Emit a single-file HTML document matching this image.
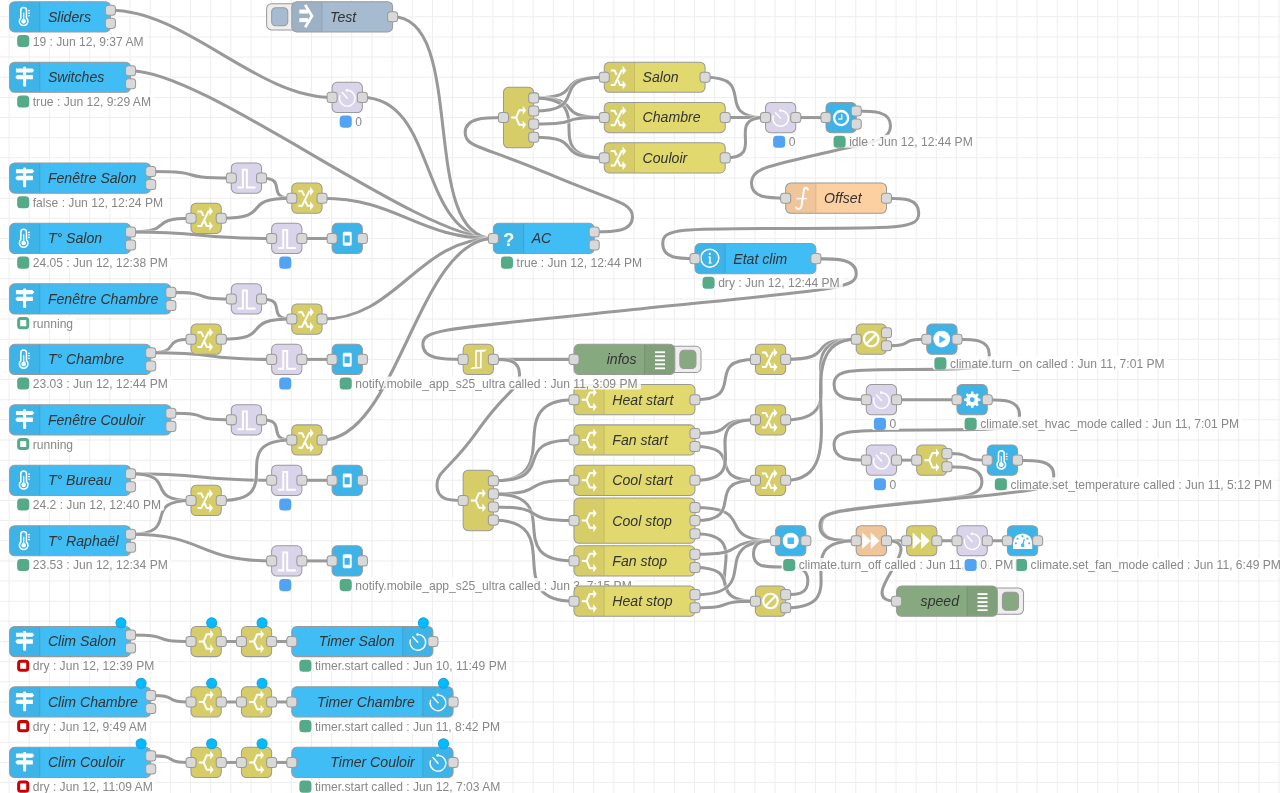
<!DOCTYPE html>
<html><head><meta charset="utf-8"><title>Node-RED</title><style>
html,body{margin:0;padding:0;background:#fff;overflow:hidden;width:1280px;height:793px}
svg{display:block;position:absolute;left:0;top:0;will-change:transform}
.lbl{font-family:"Liberation Sans",sans-serif;font-size:14px;font-style:italic;fill:#333}
.st{font-family:"Liberation Sans",sans-serif;font-size:12px;fill:#888}
.port{fill:#d9d9d9;stroke:#999;stroke-width:1}
.wire{fill:none;stroke:#999;stroke-width:3}
.wo{fill:none;stroke:#fff;stroke-width:5;stroke-opacity:0.4}
</style></head><body>
<svg width="1280" height="793" viewBox="0 0 1280 793">
<rect width="1280" height="793" fill="#fff"/>

<g transform="matrix(1.0079 0 0 1.0076 9.6 16.8)">
<path d="M-20.5 -20V790 M-0.5 -20V790 M19.5 -20V790 M39.5 -20V790 M59.5 -20V790 M79.5 -20V790 M99.5 -20V790 M119.5 -20V790 M139.5 -20V790 M159.5 -20V790 M179.5 -20V790 M199.5 -20V790 M219.5 -20V790 M239.5 -20V790 M259.5 -20V790 M279.5 -20V790 M299.5 -20V790 M319.5 -20V790 M339.5 -20V790 M359.5 -20V790 M379.5 -20V790 M399.5 -20V790 M419.5 -20V790 M439.5 -20V790 M459.5 -20V790 M479.5 -20V790 M499.5 -20V790 M519.5 -20V790 M539.5 -20V790 M559.5 -20V790 M579.5 -20V790 M599.5 -20V790 M619.5 -20V790 M639.5 -20V790 M659.5 -20V790 M679.5 -20V790 M699.5 -20V790 M719.5 -20V790 M739.5 -20V790 M759.5 -20V790 M779.5 -20V790 M799.5 -20V790 M819.5 -20V790 M839.5 -20V790 M859.5 -20V790 M879.5 -20V790 M899.5 -20V790 M919.5 -20V790 M939.5 -20V790 M959.5 -20V790 M979.5 -20V790 M999.5 -20V790 M1019.5 -20V790 M1039.5 -20V790 M1059.5 -20V790 M1079.5 -20V790 M1099.5 -20V790 M1119.5 -20V790 M1139.5 -20V790 M1159.5 -20V790 M1179.5 -20V790 M1199.5 -20V790 M1219.5 -20V790 M1239.5 -20V790 M1259.5 -20V790 M1279.5 -20V790 M-20 -20H1280 M-20 0H1280 M-20 20H1280 M-20 40H1280 M-20 60H1280 M-20 80H1280 M-20 100H1280 M-20 120H1280 M-20 140H1280 M-20 160H1280 M-20 180H1280 M-20 200H1280 M-20 220H1280 M-20 240H1280 M-20 260H1280 M-20 280H1280 M-20 300H1280 M-20 320H1280 M-20 340H1280 M-20 360H1280 M-20 380H1280 M-20 400H1280 M-20 420H1280 M-20 440H1280 M-20 460H1280 M-20 480H1280 M-20 500H1280 M-20 520H1280 M-20 540H1280 M-20 560H1280 M-20 580H1280 M-20 600H1280 M-20 620H1280 M-20 640H1280 M-20 660H1280 M-20 680H1280 M-20 700H1280 M-20 720H1280 M-20 740H1280 M-20 760H1280 M-20 780H1280 M-20 800H1280" stroke="#eee" stroke-width="1" fill="none"/>
<path class="wo" d="M 100 -6.5 C 175 -6.5 245 80 320 80"/>
<path class="wire" d="M 100 -6.5 C 175 -6.5 245 80 320 80"/>
<path class="wo" d="M 350 80 C 425 80 405 220 480 220"/>
<path class="wire" d="M 350 80 C 425 80 405 220 480 220"/>
<path class="wo" d="M 120 53.5 C 195 53.5 405 220 480 220"/>
<path class="wire" d="M 120 53.5 C 195 53.5 405 220 480 220"/>
<path class="wo" d="M 380 0 C 455 0 405 220 480 220"/>
<path class="wire" d="M 380 0 C 455 0 405 220 480 220"/>
<path class="wo" d="M 140 153.5 C 200.198 153.5 159.802 160 220 160"/>
<path class="wire" d="M 140 153.5 C 200.198 153.5 159.802 160 220 160"/>
<path class="wo" d="M 250 160 C 277.042 160 252.958 180 280 180"/>
<path class="wire" d="M 250 160 C 277.042 160 252.958 180 280 180"/>
<path class="wo" d="M 120 213.5 C 166.125 213.5 133.875 200 180 200"/>
<path class="wire" d="M 120 213.5 C 166.125 213.5 133.875 200 180 200"/>
<path class="wo" d="M 120 213.5 C 195 213.5 185 220 260 220"/>
<path class="wire" d="M 120 213.5 C 195 213.5 185 220 260 220"/>
<path class="wo" d="M 210 200 C 264.601 200 225.399 180 280 180"/>
<path class="wire" d="M 210 200 C 264.601 200 225.399 180 280 180"/>
<path class="wo" d="M 310 180 C 385 180 405 220 480 220"/>
<path class="wire" d="M 310 180 C 385 180 405 220 480 220"/>
<path class="wo" d="M 290 220 C 312.5 220 297.5 220 320 220"/>
<path class="wire" d="M 290 220 C 312.5 220 297.5 220 320 220"/>
<path class="wo" d="M 160 273.5 C 205.263 273.5 174.737 280 220 280"/>
<path class="wire" d="M 160 273.5 C 205.263 273.5 174.737 280 220 280"/>
<path class="wo" d="M 250 280 C 277.042 280 252.958 300 280 300"/>
<path class="wire" d="M 250 280 C 277.042 280 252.958 300 280 300"/>
<path class="wo" d="M 140 333.5 C 171.663 333.5 148.337 320 180 320"/>
<path class="wire" d="M 140 333.5 C 171.663 333.5 148.337 320 180 320"/>
<path class="wo" d="M 140 333.5 C 215 333.5 185 340 260 340"/>
<path class="wire" d="M 140 333.5 C 215 333.5 185 340 260 340"/>
<path class="wo" d="M 210 320 C 264.601 320 225.399 300 280 300"/>
<path class="wire" d="M 210 320 C 264.601 320 225.399 300 280 300"/>
<path class="wo" d="M 310 300 C 385 300 405 220 480 220"/>
<path class="wire" d="M 310 300 C 385 300 405 220 480 220"/>
<path class="wo" d="M 290 340 C 312.5 340 297.5 340 320 340"/>
<path class="wire" d="M 290 340 C 312.5 340 297.5 340 320 340"/>
<path class="wo" d="M 160 393.5 C 205.263 393.5 174.737 400 220 400"/>
<path class="wire" d="M 160 393.5 C 205.263 393.5 174.737 400 220 400"/>
<path class="wo" d="M 250 400 C 277.042 400 252.958 420 280 420"/>
<path class="wire" d="M 250 400 C 277.042 400 252.958 420 280 420"/>
<path class="wo" d="M 120 453.5 C 195 453.5 185 460 260 460"/>
<path class="wire" d="M 120 453.5 C 195 453.5 185 460 260 460"/>
<path class="wo" d="M 120 453.5 C 169.194 453.5 130.806 480 180 480"/>
<path class="wire" d="M 120 453.5 C 169.194 453.5 130.806 480 180 480"/>
<path class="wo" d="M 120 513.5 C 171.539 513.5 128.461 480 180 480"/>
<path class="wire" d="M 120 513.5 C 171.539 513.5 128.461 480 180 480"/>
<path class="wo" d="M 120 513.5 C 195 513.5 185 540 260 540"/>
<path class="wire" d="M 120 513.5 C 195 513.5 185 540 260 540"/>
<path class="wo" d="M 210 480 C 279.147 480 210.853 420 280 420"/>
<path class="wire" d="M 210 480 C 279.147 480 210.853 420 280 420"/>
<path class="wo" d="M 310 420 C 385 420 405 220 480 220"/>
<path class="wire" d="M 310 420 C 385 420 405 220 480 220"/>
<path class="wo" d="M 290 460 C 312.5 460 297.5 460 320 460"/>
<path class="wire" d="M 290 460 C 312.5 460 297.5 460 320 460"/>
<path class="wo" d="M 290 540 C 312.5 540 297.5 540 320 540"/>
<path class="wire" d="M 290 540 C 312.5 540 297.5 540 320 540"/>
<path class="wo" d="M 580 213.5 C 599 213.5 618 213.5 618 198.5 S 599 183.5 535 156 S 452 130 452 115 S 471 100 490 100"/>
<path class="wire" d="M 580 213.5 C 599 213.5 618 213.5 618 198.5 S 599 183.5 535 156 S 452 130 452 115 S 471 100 490 100"/>
<path class="wo" d="M 520 80.5 C 574.705 80.5 535.295 60 590 60"/>
<path class="wire" d="M 520 80.5 C 574.705 80.5 535.295 60 590 60"/>
<path class="wo" d="M 520 80.5 C 574.499 80.5 535.501 100 590 100"/>
<path class="wire" d="M 520 80.5 C 574.499 80.5 535.501 100 590 100"/>
<path class="wo" d="M 520 80.5 C 588.903 80.5 521.097 140 590 140"/>
<path class="wire" d="M 520 80.5 C 588.903 80.5 521.097 140 590 140"/>
<path class="wo" d="M 520 93.5 C 578.202 93.5 531.798 60 590 60"/>
<path class="wire" d="M 520 93.5 C 578.202 93.5 531.798 60 590 60"/>
<path class="wo" d="M 520 106.5 C 572.726 106.5 537.274 100 590 100"/>
<path class="wire" d="M 520 106.5 C 572.726 106.5 537.274 100 590 100"/>
<path class="wo" d="M 520 119.5 C 574.705 119.5 535.295 140 590 140"/>
<path class="wire" d="M 520 119.5 C 574.705 119.5 535.295 140 590 140"/>
<path class="wo" d="M 690 60 C 744.083 60 695.917 100 750 100"/>
<path class="wire" d="M 690 60 C 744.083 60 695.917 100 750 100"/>
<path class="wo" d="M 710 100 C 740 100 720 100 750 100"/>
<path class="wire" d="M 710 100 C 740 100 720 100 750 100"/>
<path class="wo" d="M 710 140 C 752.426 140 707.574 100 750 100"/>
<path class="wire" d="M 710 140 C 752.426 140 707.574 100 750 100"/>
<path class="wo" d="M 780 100 C 802.5 100 787.5 100 810 100"/>
<path class="wire" d="M 780 100 C 802.5 100 787.5 100 810 100"/>
<path class="wo" d="M 840 93.5 C 857 93.5 874 93.5 874 108.5 S 857 123.5 805 136 S 736 150 736 165 S 753 180 770 180"/>
<path class="wire" d="M 840 93.5 C 857 93.5 874 93.5 874 108.5 S 857 123.5 805 136 S 736 150 736 165 S 753 180 770 180"/>
<path class="wo" d="M 870 180 C 886 180 902 180 902 195 S 886 210 775 210 S 648 210 648 225 S 664 240 680 240"/>
<path class="wire" d="M 870 180 C 886 180 902 180 902 195 S 886 210 775 210 S 648 210 648 225 S 664 240 680 240"/>
<path class="wo" d="M 800 240 C 820 240 840 240 840 255 S 820 270 625 290 S 410 310 410 325 S 430 340 450 340"/>
<path class="wire" d="M 800 240 C 820 240 840 240 840 255 S 820 270 625 290 S 410 310 410 325 S 430 340 450 340"/>
<path class="wo" d="M 480 340 C 540 340 500 340 560 340"/>
<path class="wire" d="M 480 340 C 540 340 500 340 560 340"/>
<path class="wo" d="M 480 340 C 493 340 506 340 506 355 S 493 370 465 410 S 424 450 424 465 S 437 480 450 480"/>
<path class="wire" d="M 480 340 C 493 340 506 340 506 355 S 493 370 465 410 S 424 450 424 465 S 437 480 450 480"/>
<path class="wo" d="M 480 460.5 C 555 460.5 485 380 560 380"/>
<path class="wire" d="M 480 460.5 C 555 460.5 485 380 560 380"/>
<path class="wo" d="M 480 460.5 C 547.251 460.5 492.749 420 560 420"/>
<path class="wire" d="M 480 460.5 C 547.251 460.5 492.749 420 560 420"/>
<path class="wo" d="M 480 473.5 C 540.848 473.5 499.152 460 560 460"/>
<path class="wire" d="M 480 473.5 C 540.848 473.5 499.152 460 560 460"/>
<path class="wo" d="M 480 473.5 C 555 473.5 485 540 560 540"/>
<path class="wire" d="M 480 473.5 C 555 473.5 485 540 560 540"/>
<path class="wo" d="M 480 486.5 C 540.848 486.5 499.152 500 560 500"/>
<path class="wire" d="M 480 486.5 C 540.848 486.5 499.152 500 560 500"/>
<path class="wo" d="M 480 499.5 C 555 499.5 485 580 560 580"/>
<path class="wire" d="M 480 499.5 C 555 499.5 485 580 560 580"/>
<path class="wo" d="M 680 380 C 734.083 380 685.917 340 740 340"/>
<path class="wire" d="M 680 380 C 734.083 380 685.917 340 740 340"/>
<path class="wo" d="M 680 413.5 C 726.125 413.5 693.875 400 740 400"/>
<path class="wire" d="M 680 413.5 C 726.125 413.5 693.875 400 740 400"/>
<path class="wo" d="M 680 426.5 C 731.539 426.5 688.461 460 740 460"/>
<path class="wire" d="M 680 426.5 C 731.539 426.5 688.461 460 740 460"/>
<path class="wo" d="M 680 460 C 743.64 460 676.36 400 740 400"/>
<path class="wire" d="M 680 460 C 743.64 460 676.36 400 740 400"/>
<path class="wo" d="M 680 487 C 744.904 487 695.096 520 760 520"/>
<path class="wire" d="M 680 487 C 744.904 487 695.096 520 760 520"/>
<path class="wo" d="M 680 500 C 734.083 500 685.917 460 740 460"/>
<path class="wire" d="M 680 500 C 734.083 500 685.917 460 740 460"/>
<path class="wo" d="M 680 513 C 747.454 513 672.546 580 740 580"/>
<path class="wire" d="M 680 513 C 747.454 513 672.546 580 740 580"/>
<path class="wo" d="M 680 533.5 C 740.848 533.5 699.152 520 760 520"/>
<path class="wire" d="M 680 533.5 C 740.848 533.5 699.152 520 760 520"/>
<path class="wo" d="M 680 546.5 C 731.539 546.5 688.461 580 740 580"/>
<path class="wire" d="M 680 546.5 C 731.539 546.5 688.461 580 740 580"/>
<path class="wo" d="M 680 573.5 C 752.18 573.5 687.82 520 760 520"/>
<path class="wire" d="M 680 573.5 C 752.18 573.5 687.82 520 760 520"/>
<path class="wo" d="M 680 586.5 C 725.263 586.5 694.737 580 740 580"/>
<path class="wire" d="M 680 586.5 C 725.263 586.5 694.737 580 740 580"/>
<path class="wo" d="M 770 340 C 824.601 340 785.399 320 840 320"/>
<path class="wire" d="M 770 340 C 824.601 340 785.399 320 840 320"/>
<path class="wo" d="M 770 400 C 845 400 765 320 840 320"/>
<path class="wire" d="M 770 400 C 845 400 765 320 840 320"/>
<path class="wo" d="M 770 460 C 845 460 765 320 840 320"/>
<path class="wire" d="M 770 460 C 845 460 765 320 840 320"/>
<path class="wo" d="M 870 326.5 C 900.394 326.5 879.606 320 910 320"/>
<path class="wire" d="M 870 326.5 C 900.394 326.5 879.606 320 910 320"/>
<path class="wo" d="M 940 320 C 956 320 972 320 972 335 S 956 350 895 350 S 818 350 818 365 S 834 380 850 380"/>
<path class="wire" d="M 940 320 C 956 320 972 320 972 335 S 956 350 895 350 S 818 350 818 365 S 834 380 850 380"/>
<path class="wo" d="M 880 380 C 925 380 895 380 940 380"/>
<path class="wire" d="M 880 380 C 925 380 895 380 940 380"/>
<path class="wo" d="M 970 380 C 986 380 1002 380 1002 395 S 986 410 910 410 S 818 410 818 425 S 834 440 850 440"/>
<path class="wire" d="M 970 380 C 986 380 1002 380 1002 395 S 986 410 910 410 S 818 410 818 425 S 834 440 850 440"/>
<path class="wo" d="M 880 440 C 895 440 885 440 900 440"/>
<path class="wire" d="M 880 440 C 895 440 885 440 900 440"/>
<path class="wo" d="M 930 433.5 C 960.394 433.5 939.606 440 970 440"/>
<path class="wire" d="M 930 433.5 C 960.394 433.5 939.606 440 970 440"/>
<path class="wo" d="M 930 446.5 C 947.35 446.5 964.7 446.5 964.7 461.5 S 947.35 476.5 885 483 S 805.3 490 805.3 505 S 822.65 520 840 520"/>
<path class="wire" d="M 930 446.5 C 947.35 446.5 964.7 446.5 964.7 461.5 S 947.35 476.5 885 483 S 805.3 490 805.3 505 S 822.65 520 840 520"/>
<path class="wo" d="M 1000 440 C 1018 440 1036 440 1036 455 S 1018 470 920 480 S 804 490 804 505 S 822 520 840 520"/>
<path class="wire" d="M 1000 440 C 1018 440 1036 440 1036 455 S 1018 470 920 480 S 804 490 804 505 S 822 520 840 520"/>
<path class="wo" d="M 770 573.5 C 781 573.5 792 573.5 792 559.75 S 781 546 765 546 S 738 546 738 533 S 749 520 760 520"/>
<path class="wire" d="M 770 573.5 C 781 573.5 792 573.5 792 559.75 S 781 546 765 546 S 738 546 738 533 S 749 520 760 520"/>
<path class="wo" d="M 770 586.5 C 842.414 586.5 767.586 520 840 520"/>
<path class="wire" d="M 770 586.5 C 842.414 586.5 767.586 520 840 520"/>
<path class="wo" d="M 870 520 C 885 520 875 520 890 520"/>
<path class="wire" d="M 870 520 C 885 520 875 520 890 520"/>
<path class="wo" d="M 870 520 C 915.621 520 834.379 580 880 580"/>
<path class="wire" d="M 870 520 C 915.621 520 834.379 580 880 580"/>
<path class="wo" d="M 920 520 C 935 520 925 520 940 520"/>
<path class="wire" d="M 920 520 C 935 520 925 520 940 520"/>
<path class="wo" d="M 970 520 C 985 520 975 520 990 520"/>
<path class="wire" d="M 970 520 C 985 520 975 520 990 520"/>
<path class="wo" d="M 120 613.5 C 165.263 613.5 134.737 620 180 620"/>
<path class="wire" d="M 120 613.5 C 165.263 613.5 134.737 620 180 620"/>
<path class="wo" d="M 210 620 C 225 620 215 620 230 620"/>
<path class="wire" d="M 210 620 C 225 620 215 620 230 620"/>
<path class="wo" d="M 260 620 C 275 620 265 620 280 620"/>
<path class="wire" d="M 260 620 C 275 620 265 620 280 620"/>
<path class="wo" d="M 140 673.5 C 170.394 673.5 149.606 680 180 680"/>
<path class="wire" d="M 140 673.5 C 170.394 673.5 149.606 680 180 680"/>
<path class="wo" d="M 210 680 C 225 680 215 680 230 680"/>
<path class="wire" d="M 210 680 C 225 680 215 680 230 680"/>
<path class="wo" d="M 260 680 C 275 680 265 680 280 680"/>
<path class="wire" d="M 260 680 C 275 680 265 680 280 680"/>
<path class="wo" d="M 140 733.5 C 170.394 733.5 149.606 740 180 740"/>
<path class="wire" d="M 140 733.5 C 170.394 733.5 149.606 740 180 740"/>
<path class="wo" d="M 210 740 C 225 740 215 740 230 740"/>
<path class="wire" d="M 210 740 C 225 740 215 740 230 740"/>
<path class="wo" d="M 260 740 C 275 740 265 740 280 740"/>
<path class="wire" d="M 260 740 C 275 740 265 740 280 740"/>
<g transform="translate(0,-15)"><rect width="100" height="30" rx="5" fill="#41bdf5" stroke="#999"/><path d="M30 0.5H5Q0.5 0.5 0.5 5V25 Q0.5 29.5 5 29.5H30Z" fill="#000" fill-opacity="0.05"/><path d="M30 0.5V29.5" stroke="#000" stroke-opacity="0.1"/><g transform="translate(0,0)"><path d="M11.15 16.3V8.55A2.8 2.8 0 0 1 16.75 8.55V16.3A4.25 4.25 0 1 1 11.15 16.3Z" fill="none" stroke="#fff" stroke-width="1.5"/><rect x="13.3" y="11" width="1.3" height="8" fill="#fff"/><circle cx="13.95" cy="19.5" r="2.3" fill="#fff"/><path d="M18.4 8.9h1.8M18.4 11.4h1.8M18.4 13.9h1.8" stroke="#fff" stroke-width="1.1"/></g><text class="lbl" x="38" y="19.9">Sliders</text><rect x="95" y="3.5" width="10" height="10" rx="3" class="port"/><rect x="95" y="16.5" width="10" height="10" rx="3" class="port"/><g transform="translate(3,33)"><rect x="3" y="-1" width="130.016" height="13" rx="1" fill="#fff" fill-opacity="0.85"/><rect x="6" y="1.5" width="9" height="9" rx="2" fill="#5a8" stroke="#5a8" stroke-width="3"/><text class="st" x="20" y="10.5">19 : Jun 12, 9:37 AM</text></g></g>
<g transform="translate(0,45)"><rect width="120" height="30" rx="5" fill="#41bdf5" stroke="#999"/><path d="M30 0.5H5Q0.5 0.5 0.5 5V25 Q0.5 29.5 5 29.5H30Z" fill="#000" fill-opacity="0.05"/><path d="M30 0.5V29.5" stroke="#000" stroke-opacity="0.1"/><g transform="translate(0,0)"><g fill="#fff"><rect x="13.4" y="4.6" width="3" height="19.5" rx="1"/><path d="M6.3 6.6Q6.3 6.2 6.7 6.2H22.6L24.4 8.25L22.6 10.3H6.7Q6.3 10.3 6.3 9.9Z"/><path d="M7.4 12.75H22.7Q23.1 12.75 23.1 13.15V16.7Q23.1 17.1 22.7 17.1H7.4L5.7 14.92Z"/></g></g><text class="lbl" x="38" y="19.9">Switches</text><rect x="115" y="3.5" width="10" height="10" rx="3" class="port"/><rect x="115" y="16.5" width="10" height="10" rx="3" class="port"/><g transform="translate(3,33)"><rect x="3" y="-1" width="137.344" height="13" rx="1" fill="#fff" fill-opacity="0.85"/><rect x="6" y="1.5" width="9" height="9" rx="2" fill="#5a8" stroke="#5a8" stroke-width="3"/><text class="st" x="20" y="10.5">true : Jun 12, 9:29 AM</text></g></g>
<g transform="translate(0,145)"><rect width="140" height="30" rx="5" fill="#41bdf5" stroke="#999"/><path d="M30 0.5H5Q0.5 0.5 0.5 5V25 Q0.5 29.5 5 29.5H30Z" fill="#000" fill-opacity="0.05"/><path d="M30 0.5V29.5" stroke="#000" stroke-opacity="0.1"/><g transform="translate(0,0)"><g fill="#fff"><rect x="13.4" y="4.6" width="3" height="19.5" rx="1"/><path d="M6.3 6.6Q6.3 6.2 6.7 6.2H22.6L24.4 8.25L22.6 10.3H6.7Q6.3 10.3 6.3 9.9Z"/><path d="M7.4 12.75H22.7Q23.1 12.75 23.1 13.15V16.7Q23.1 17.1 22.7 17.1H7.4L5.7 14.92Z"/></g></g><text class="lbl" x="38" y="19.9">Fenêtre Salon</text><rect x="135" y="3.5" width="10" height="10" rx="3" class="port"/><rect x="135" y="16.5" width="10" height="10" rx="3" class="port"/><g transform="translate(3,33)"><rect x="3" y="-1" width="149.344" height="13" rx="1" fill="#fff" fill-opacity="0.85"/><rect x="6" y="1.5" width="9" height="9" rx="2" fill="#5a8" stroke="#5a8" stroke-width="3"/><text class="st" x="20" y="10.5">false : Jun 12, 12:24 PM</text></g></g>
<g transform="translate(0,205)"><rect width="120" height="30" rx="5" fill="#41bdf5" stroke="#999"/><path d="M30 0.5H5Q0.5 0.5 0.5 5V25 Q0.5 29.5 5 29.5H30Z" fill="#000" fill-opacity="0.05"/><path d="M30 0.5V29.5" stroke="#000" stroke-opacity="0.1"/><g transform="translate(0,0)"><path d="M11.15 16.3V8.55A2.8 2.8 0 0 1 16.75 8.55V16.3A4.25 4.25 0 1 1 11.15 16.3Z" fill="none" stroke="#fff" stroke-width="1.5"/><rect x="13.3" y="11" width="1.3" height="8" fill="#fff"/><circle cx="13.95" cy="19.5" r="2.3" fill="#fff"/><path d="M18.4 8.9h1.8M18.4 11.4h1.8M18.4 13.9h1.8" stroke="#fff" stroke-width="1.1"/></g><text class="lbl" x="38" y="19.9">T° Salon</text><rect x="115" y="3.5" width="10" height="10" rx="3" class="port"/><rect x="115" y="16.5" width="10" height="10" rx="3" class="port"/><g transform="translate(3,33)"><rect x="3" y="-1" width="154.016" height="13" rx="1" fill="#fff" fill-opacity="0.85"/><rect x="6" y="1.5" width="9" height="9" rx="2" fill="#5a8" stroke="#5a8" stroke-width="3"/><text class="st" x="20" y="10.5">24.05 : Jun 12, 12:38 PM</text></g></g>
<g transform="translate(0,265)"><rect width="160" height="30" rx="5" fill="#41bdf5" stroke="#999"/><path d="M30 0.5H5Q0.5 0.5 0.5 5V25 Q0.5 29.5 5 29.5H30Z" fill="#000" fill-opacity="0.05"/><path d="M30 0.5V29.5" stroke="#000" stroke-opacity="0.1"/><g transform="translate(0,0)"><g fill="#fff"><rect x="13.4" y="4.6" width="3" height="19.5" rx="1"/><path d="M6.3 6.6Q6.3 6.2 6.7 6.2H22.6L24.4 8.25L22.6 10.3H6.7Q6.3 10.3 6.3 9.9Z"/><path d="M7.4 12.75H22.7Q23.1 12.75 23.1 13.15V16.7Q23.1 17.1 22.7 17.1H7.4L5.7 14.92Z"/></g></g><text class="lbl" x="38" y="19.9">Fenêtre Chambre</text><rect x="155" y="3.5" width="10" height="10" rx="3" class="port"/><rect x="155" y="16.5" width="10" height="10" rx="3" class="port"/><g transform="translate(3,33)"><rect x="3" y="-1" width="60.0312" height="13" rx="1" fill="#fff" fill-opacity="0.85"/><rect x="6" y="1.5" width="9" height="9" rx="2" fill="#fff" stroke="#5a8" stroke-width="3"/><text class="st" x="20" y="10.5">running</text></g></g>
<g transform="translate(0,325)"><rect width="140" height="30" rx="5" fill="#41bdf5" stroke="#999"/><path d="M30 0.5H5Q0.5 0.5 0.5 5V25 Q0.5 29.5 5 29.5H30Z" fill="#000" fill-opacity="0.05"/><path d="M30 0.5V29.5" stroke="#000" stroke-opacity="0.1"/><g transform="translate(0,0)"><path d="M11.15 16.3V8.55A2.8 2.8 0 0 1 16.75 8.55V16.3A4.25 4.25 0 1 1 11.15 16.3Z" fill="none" stroke="#fff" stroke-width="1.5"/><rect x="13.3" y="11" width="1.3" height="8" fill="#fff"/><circle cx="13.95" cy="19.5" r="2.3" fill="#fff"/><path d="M18.4 8.9h1.8M18.4 11.4h1.8M18.4 13.9h1.8" stroke="#fff" stroke-width="1.1"/></g><text class="lbl" x="38" y="19.9">T° Chambre</text><rect x="135" y="3.5" width="10" height="10" rx="3" class="port"/><rect x="135" y="16.5" width="10" height="10" rx="3" class="port"/><g transform="translate(3,33)"><rect x="3" y="-1" width="154.016" height="13" rx="1" fill="#fff" fill-opacity="0.85"/><rect x="6" y="1.5" width="9" height="9" rx="2" fill="#5a8" stroke="#5a8" stroke-width="3"/><text class="st" x="20" y="10.5">23.03 : Jun 12, 12:44 PM</text></g></g>
<g transform="translate(0,385)"><rect width="160" height="30" rx="5" fill="#41bdf5" stroke="#999"/><path d="M30 0.5H5Q0.5 0.5 0.5 5V25 Q0.5 29.5 5 29.5H30Z" fill="#000" fill-opacity="0.05"/><path d="M30 0.5V29.5" stroke="#000" stroke-opacity="0.1"/><g transform="translate(0,0)"><g fill="#fff"><rect x="13.4" y="4.6" width="3" height="19.5" rx="1"/><path d="M6.3 6.6Q6.3 6.2 6.7 6.2H22.6L24.4 8.25L22.6 10.3H6.7Q6.3 10.3 6.3 9.9Z"/><path d="M7.4 12.75H22.7Q23.1 12.75 23.1 13.15V16.7Q23.1 17.1 22.7 17.1H7.4L5.7 14.92Z"/></g></g><text class="lbl" x="38" y="19.9">Fenêtre Couloir</text><rect x="155" y="3.5" width="10" height="10" rx="3" class="port"/><rect x="155" y="16.5" width="10" height="10" rx="3" class="port"/><g transform="translate(3,33)"><rect x="3" y="-1" width="60.0312" height="13" rx="1" fill="#fff" fill-opacity="0.85"/><rect x="6" y="1.5" width="9" height="9" rx="2" fill="#fff" stroke="#5a8" stroke-width="3"/><text class="st" x="20" y="10.5">running</text></g></g>
<g transform="translate(0,445)"><rect width="120" height="30" rx="5" fill="#41bdf5" stroke="#999"/><path d="M30 0.5H5Q0.5 0.5 0.5 5V25 Q0.5 29.5 5 29.5H30Z" fill="#000" fill-opacity="0.05"/><path d="M30 0.5V29.5" stroke="#000" stroke-opacity="0.1"/><g transform="translate(0,0)"><path d="M11.15 16.3V8.55A2.8 2.8 0 0 1 16.75 8.55V16.3A4.25 4.25 0 1 1 11.15 16.3Z" fill="none" stroke="#fff" stroke-width="1.5"/><rect x="13.3" y="11" width="1.3" height="8" fill="#fff"/><circle cx="13.95" cy="19.5" r="2.3" fill="#fff"/><path d="M18.4 8.9h1.8M18.4 11.4h1.8M18.4 13.9h1.8" stroke="#fff" stroke-width="1.1"/></g><text class="lbl" x="38" y="19.9">T° Bureau</text><rect x="115" y="3.5" width="10" height="10" rx="3" class="port"/><rect x="115" y="16.5" width="10" height="10" rx="3" class="port"/><g transform="translate(3,33)"><rect x="3" y="-1" width="147.344" height="13" rx="1" fill="#fff" fill-opacity="0.85"/><rect x="6" y="1.5" width="9" height="9" rx="2" fill="#5a8" stroke="#5a8" stroke-width="3"/><text class="st" x="20" y="10.5">24.2 : Jun 12, 12:40 PM</text></g></g>
<g transform="translate(0,505)"><rect width="120" height="30" rx="5" fill="#41bdf5" stroke="#999"/><path d="M30 0.5H5Q0.5 0.5 0.5 5V25 Q0.5 29.5 5 29.5H30Z" fill="#000" fill-opacity="0.05"/><path d="M30 0.5V29.5" stroke="#000" stroke-opacity="0.1"/><g transform="translate(0,0)"><path d="M11.15 16.3V8.55A2.8 2.8 0 0 1 16.75 8.55V16.3A4.25 4.25 0 1 1 11.15 16.3Z" fill="none" stroke="#fff" stroke-width="1.5"/><rect x="13.3" y="11" width="1.3" height="8" fill="#fff"/><circle cx="13.95" cy="19.5" r="2.3" fill="#fff"/><path d="M18.4 8.9h1.8M18.4 11.4h1.8M18.4 13.9h1.8" stroke="#fff" stroke-width="1.1"/></g><text class="lbl" x="38" y="19.9">T° Raphaël</text><rect x="115" y="3.5" width="10" height="10" rx="3" class="port"/><rect x="115" y="16.5" width="10" height="10" rx="3" class="port"/><g transform="translate(3,33)"><rect x="3" y="-1" width="154.016" height="13" rx="1" fill="#fff" fill-opacity="0.85"/><rect x="6" y="1.5" width="9" height="9" rx="2" fill="#5a8" stroke="#5a8" stroke-width="3"/><text class="st" x="20" y="10.5">23.53 : Jun 12, 12:34 PM</text></g></g>
<g transform="translate(0,605)"><rect width="120" height="30" rx="5" fill="#41bdf5" stroke="#999"/><path d="M30 0.5H5Q0.5 0.5 0.5 5V25 Q0.5 29.5 5 29.5H30Z" fill="#000" fill-opacity="0.05"/><path d="M30 0.5V29.5" stroke="#000" stroke-opacity="0.1"/><g transform="translate(0,0)"><g fill="#fff"><rect x="13.4" y="4.6" width="3" height="19.5" rx="1"/><path d="M6.3 6.6Q6.3 6.2 6.7 6.2H22.6L24.4 8.25L22.6 10.3H6.7Q6.3 10.3 6.3 9.9Z"/><path d="M7.4 12.75H22.7Q23.1 12.75 23.1 13.15V16.7Q23.1 17.1 22.7 17.1H7.4L5.7 14.92Z"/></g></g><text class="lbl" x="38" y="19.9">Clim Salon</text><rect x="115" y="3.5" width="10" height="10" rx="3" class="port"/><rect x="115" y="16.5" width="10" height="10" rx="3" class="port"/><circle cx="110.5" cy="-3.5" r="5" fill="#00bcff" stroke="#1ba1e2" stroke-width="1"/><g transform="translate(3,33)"><rect x="3" y="-1" width="140.672" height="13" rx="1" fill="#fff" fill-opacity="0.85"/><rect x="6" y="1.5" width="9" height="9" rx="2" fill="#fff" stroke="#c00" stroke-width="3"/><text class="st" x="20" y="10.5">dry : Jun 12, 12:39 PM</text></g></g>
<g transform="translate(0,665)"><rect width="140" height="30" rx="5" fill="#41bdf5" stroke="#999"/><path d="M30 0.5H5Q0.5 0.5 0.5 5V25 Q0.5 29.5 5 29.5H30Z" fill="#000" fill-opacity="0.05"/><path d="M30 0.5V29.5" stroke="#000" stroke-opacity="0.1"/><g transform="translate(0,0)"><g fill="#fff"><rect x="13.4" y="4.6" width="3" height="19.5" rx="1"/><path d="M6.3 6.6Q6.3 6.2 6.7 6.2H22.6L24.4 8.25L22.6 10.3H6.7Q6.3 10.3 6.3 9.9Z"/><path d="M7.4 12.75H22.7Q23.1 12.75 23.1 13.15V16.7Q23.1 17.1 22.7 17.1H7.4L5.7 14.92Z"/></g></g><text class="lbl" x="38" y="19.9">Clim Chambre</text><rect x="135" y="3.5" width="10" height="10" rx="3" class="port"/><rect x="135" y="16.5" width="10" height="10" rx="3" class="port"/><circle cx="130.5" cy="-3.5" r="5" fill="#00bcff" stroke="#1ba1e2" stroke-width="1"/><g transform="translate(3,33)"><rect x="3" y="-1" width="133.344" height="13" rx="1" fill="#fff" fill-opacity="0.85"/><rect x="6" y="1.5" width="9" height="9" rx="2" fill="#fff" stroke="#c00" stroke-width="3"/><text class="st" x="20" y="10.5">dry : Jun 12, 9:49 AM</text></g></g>
<g transform="translate(0,725)"><rect width="140" height="30" rx="5" fill="#41bdf5" stroke="#999"/><path d="M30 0.5H5Q0.5 0.5 0.5 5V25 Q0.5 29.5 5 29.5H30Z" fill="#000" fill-opacity="0.05"/><path d="M30 0.5V29.5" stroke="#000" stroke-opacity="0.1"/><g transform="translate(0,0)"><g fill="#fff"><rect x="13.4" y="4.6" width="3" height="19.5" rx="1"/><path d="M6.3 6.6Q6.3 6.2 6.7 6.2H22.6L24.4 8.25L22.6 10.3H6.7Q6.3 10.3 6.3 9.9Z"/><path d="M7.4 12.75H22.7Q23.1 12.75 23.1 13.15V16.7Q23.1 17.1 22.7 17.1H7.4L5.7 14.92Z"/></g></g><text class="lbl" x="38" y="19.9">Clim Couloir</text><rect x="135" y="3.5" width="10" height="10" rx="3" class="port"/><rect x="135" y="16.5" width="10" height="10" rx="3" class="port"/><circle cx="130.5" cy="-3.5" r="5" fill="#00bcff" stroke="#1ba1e2" stroke-width="1"/><g transform="translate(3,33)"><rect x="3" y="-1" width="139.125" height="13" rx="1" fill="#fff" fill-opacity="0.85"/><rect x="6" y="1.5" width="9" height="9" rx="2" fill="#fff" stroke="#c00" stroke-width="3"/><text class="st" x="20" y="10.5">dry : Jun 12, 11:09 AM</text></g></g>
<g transform="translate(320,65)"><rect width="30" height="30" rx="5" fill="#e6e0f8" stroke="#999"/><rect x="0.5" y="0.5" width="29" height="29" rx="4.5" fill="#000" fill-opacity="0.05"/><g transform="translate(0,0)"><g fill="none" stroke="#fff" stroke-width="1.4" stroke-linecap="round"><path d="M16.6 8.2A7.8 7.8 0 1 1 7.6 13.4"/><path d="M10 10.2L15 15.8"/></g><circle cx="14.8" cy="8" r="1.3" fill="#fff"/></g><rect x="-5" y="10" width="10" height="10" rx="3" class="port"/><rect x="25" y="10" width="10" height="10" rx="3" class="port"/><g transform="translate(3,33)"><rect x="3" y="-1" width="26.6719" height="13" rx="1" fill="#fff" fill-opacity="0.85"/><rect x="6" y="1.5" width="9" height="9" rx="2" fill="#53a3f3" stroke="#53a3f3" stroke-width="3"/><text class="st" x="20" y="10.5">0</text></g></g>
<g transform="translate(220,145)"><rect width="30" height="30" rx="5" fill="#e6e0f8" stroke="#999"/><rect x="0.5" y="0.5" width="29" height="29" rx="4.5" fill="#000" fill-opacity="0.05"/><g transform="translate(0,0)"><path d="M6.2 24.4H11.5V6.7H15.4V24.4H24" fill="none" stroke="#fff" stroke-width="2"/></g><rect x="-5" y="10" width="10" height="10" rx="3" class="port"/><rect x="25" y="10" width="10" height="10" rx="3" class="port"/></g>
<g transform="translate(180,185)"><rect width="30" height="30" rx="5" fill="#e2d96e" stroke="#999"/><rect x="0.5" y="0.5" width="29" height="29" rx="4.5" fill="#000" fill-opacity="0.05"/><g transform="translate(0,0)"><g fill="none" stroke="#fff" stroke-width="2"><path d="M6.4 22.6H10.2L17.2 8.2H19.2"/><path d="M6.4 8.2H10.2L12.3 12.6"/><path d="M13.4 17.6L15.6 22.6H19.2"/></g><path d="M18.2 3.6L21.8 8.2L18.2 12.8Z M18.2 18L21.8 22.6L18.2 27.2Z" fill="#fff"/></g><rect x="-5" y="10" width="10" height="10" rx="3" class="port"/><rect x="25" y="10" width="10" height="10" rx="3" class="port"/></g>
<g transform="translate(280,165)"><rect width="30" height="30" rx="5" fill="#e2d96e" stroke="#999"/><rect x="0.5" y="0.5" width="29" height="29" rx="4.5" fill="#000" fill-opacity="0.05"/><g transform="translate(0,0)"><g fill="none" stroke="#fff" stroke-width="2"><path d="M6.4 22.6H10.2L17.2 8.2H19.2"/><path d="M6.4 8.2H10.2L12.3 12.6"/><path d="M13.4 17.6L15.6 22.6H19.2"/></g><path d="M18.2 3.6L21.8 8.2L18.2 12.8Z M18.2 18L21.8 22.6L18.2 27.2Z" fill="#fff"/></g><rect x="-5" y="10" width="10" height="10" rx="3" class="port"/><rect x="25" y="10" width="10" height="10" rx="3" class="port"/></g>
<g transform="translate(260,205)"><rect width="30" height="30" rx="5" fill="#e6e0f8" stroke="#999"/><rect x="0.5" y="0.5" width="29" height="29" rx="4.5" fill="#000" fill-opacity="0.05"/><g transform="translate(0,0)"><path d="M6.2 24.4H11.5V6.7H15.4V24.4H24" fill="none" stroke="#fff" stroke-width="2"/></g><rect x="-5" y="10" width="10" height="10" rx="3" class="port"/><rect x="25" y="10" width="10" height="10" rx="3" class="port"/><g transform="translate(3,33)"><rect x="3" y="-1" width="15" height="13" rx="1" fill="#fff" fill-opacity="0.85"/><rect x="6" y="1.5" width="9" height="9" rx="2" fill="#53a3f3" stroke="#53a3f3" stroke-width="3"/></g></g>
<g transform="translate(320,205)"><rect width="30" height="30" rx="5" fill="#41bdf5" stroke="#999"/><rect x="0.5" y="0.5" width="29" height="29" rx="4.5" fill="#000" fill-opacity="0.05"/><g transform="translate(0,0)"><path fill="#fff" fill-rule="evenodd" d="M12 8.3H18Q19.4 8.3 19.4 9.7V20.8Q19.4 22.2 18 22.2H12Q10.6 22.2 10.6 20.8V9.7Q10.6 8.3 12 8.3ZM12.3 12.1V18.9H17.5V12.1Z"/></g><rect x="-5" y="10" width="10" height="10" rx="3" class="port"/><rect x="25" y="10" width="10" height="10" rx="3" class="port"/></g>
<g transform="translate(220,265)"><rect width="30" height="30" rx="5" fill="#e6e0f8" stroke="#999"/><rect x="0.5" y="0.5" width="29" height="29" rx="4.5" fill="#000" fill-opacity="0.05"/><g transform="translate(0,0)"><path d="M6.2 24.4H11.5V6.7H15.4V24.4H24" fill="none" stroke="#fff" stroke-width="2"/></g><rect x="-5" y="10" width="10" height="10" rx="3" class="port"/><rect x="25" y="10" width="10" height="10" rx="3" class="port"/></g>
<g transform="translate(180,305)"><rect width="30" height="30" rx="5" fill="#e2d96e" stroke="#999"/><rect x="0.5" y="0.5" width="29" height="29" rx="4.5" fill="#000" fill-opacity="0.05"/><g transform="translate(0,0)"><g fill="none" stroke="#fff" stroke-width="2"><path d="M6.4 22.6H10.2L17.2 8.2H19.2"/><path d="M6.4 8.2H10.2L12.3 12.6"/><path d="M13.4 17.6L15.6 22.6H19.2"/></g><path d="M18.2 3.6L21.8 8.2L18.2 12.8Z M18.2 18L21.8 22.6L18.2 27.2Z" fill="#fff"/></g><rect x="-5" y="10" width="10" height="10" rx="3" class="port"/><rect x="25" y="10" width="10" height="10" rx="3" class="port"/></g>
<g transform="translate(280,285)"><rect width="30" height="30" rx="5" fill="#e2d96e" stroke="#999"/><rect x="0.5" y="0.5" width="29" height="29" rx="4.5" fill="#000" fill-opacity="0.05"/><g transform="translate(0,0)"><g fill="none" stroke="#fff" stroke-width="2"><path d="M6.4 22.6H10.2L17.2 8.2H19.2"/><path d="M6.4 8.2H10.2L12.3 12.6"/><path d="M13.4 17.6L15.6 22.6H19.2"/></g><path d="M18.2 3.6L21.8 8.2L18.2 12.8Z M18.2 18L21.8 22.6L18.2 27.2Z" fill="#fff"/></g><rect x="-5" y="10" width="10" height="10" rx="3" class="port"/><rect x="25" y="10" width="10" height="10" rx="3" class="port"/></g>
<g transform="translate(260,325)"><rect width="30" height="30" rx="5" fill="#e6e0f8" stroke="#999"/><rect x="0.5" y="0.5" width="29" height="29" rx="4.5" fill="#000" fill-opacity="0.05"/><g transform="translate(0,0)"><path d="M6.2 24.4H11.5V6.7H15.4V24.4H24" fill="none" stroke="#fff" stroke-width="2"/></g><rect x="-5" y="10" width="10" height="10" rx="3" class="port"/><rect x="25" y="10" width="10" height="10" rx="3" class="port"/><g transform="translate(3,33)"><rect x="3" y="-1" width="15" height="13" rx="1" fill="#fff" fill-opacity="0.85"/><rect x="6" y="1.5" width="9" height="9" rx="2" fill="#53a3f3" stroke="#53a3f3" stroke-width="3"/></g></g>
<g transform="translate(220,385)"><rect width="30" height="30" rx="5" fill="#e6e0f8" stroke="#999"/><rect x="0.5" y="0.5" width="29" height="29" rx="4.5" fill="#000" fill-opacity="0.05"/><g transform="translate(0,0)"><path d="M6.2 24.4H11.5V6.7H15.4V24.4H24" fill="none" stroke="#fff" stroke-width="2"/></g><rect x="-5" y="10" width="10" height="10" rx="3" class="port"/><rect x="25" y="10" width="10" height="10" rx="3" class="port"/></g>
<g transform="translate(280,405)"><rect width="30" height="30" rx="5" fill="#e2d96e" stroke="#999"/><rect x="0.5" y="0.5" width="29" height="29" rx="4.5" fill="#000" fill-opacity="0.05"/><g transform="translate(0,0)"><g fill="none" stroke="#fff" stroke-width="2"><path d="M6.4 22.6H10.2L17.2 8.2H19.2"/><path d="M6.4 8.2H10.2L12.3 12.6"/><path d="M13.4 17.6L15.6 22.6H19.2"/></g><path d="M18.2 3.6L21.8 8.2L18.2 12.8Z M18.2 18L21.8 22.6L18.2 27.2Z" fill="#fff"/></g><rect x="-5" y="10" width="10" height="10" rx="3" class="port"/><rect x="25" y="10" width="10" height="10" rx="3" class="port"/></g>
<g transform="translate(260,445)"><rect width="30" height="30" rx="5" fill="#e6e0f8" stroke="#999"/><rect x="0.5" y="0.5" width="29" height="29" rx="4.5" fill="#000" fill-opacity="0.05"/><g transform="translate(0,0)"><path d="M6.2 24.4H11.5V6.7H15.4V24.4H24" fill="none" stroke="#fff" stroke-width="2"/></g><rect x="-5" y="10" width="10" height="10" rx="3" class="port"/><rect x="25" y="10" width="10" height="10" rx="3" class="port"/><g transform="translate(3,33)"><rect x="3" y="-1" width="15" height="13" rx="1" fill="#fff" fill-opacity="0.85"/><rect x="6" y="1.5" width="9" height="9" rx="2" fill="#53a3f3" stroke="#53a3f3" stroke-width="3"/></g></g>
<g transform="translate(180,465)"><rect width="30" height="30" rx="5" fill="#e2d96e" stroke="#999"/><rect x="0.5" y="0.5" width="29" height="29" rx="4.5" fill="#000" fill-opacity="0.05"/><g transform="translate(0,0)"><g fill="none" stroke="#fff" stroke-width="2"><path d="M6.4 22.6H10.2L17.2 8.2H19.2"/><path d="M6.4 8.2H10.2L12.3 12.6"/><path d="M13.4 17.6L15.6 22.6H19.2"/></g><path d="M18.2 3.6L21.8 8.2L18.2 12.8Z M18.2 18L21.8 22.6L18.2 27.2Z" fill="#fff"/></g><rect x="-5" y="10" width="10" height="10" rx="3" class="port"/><rect x="25" y="10" width="10" height="10" rx="3" class="port"/></g>
<g transform="translate(320,445)"><rect width="30" height="30" rx="5" fill="#41bdf5" stroke="#999"/><rect x="0.5" y="0.5" width="29" height="29" rx="4.5" fill="#000" fill-opacity="0.05"/><g transform="translate(0,0)"><path fill="#fff" fill-rule="evenodd" d="M12 8.3H18Q19.4 8.3 19.4 9.7V20.8Q19.4 22.2 18 22.2H12Q10.6 22.2 10.6 20.8V9.7Q10.6 8.3 12 8.3ZM12.3 12.1V18.9H17.5V12.1Z"/></g><rect x="-5" y="10" width="10" height="10" rx="3" class="port"/><rect x="25" y="10" width="10" height="10" rx="3" class="port"/></g>
<g transform="translate(260,525)"><rect width="30" height="30" rx="5" fill="#e6e0f8" stroke="#999"/><rect x="0.5" y="0.5" width="29" height="29" rx="4.5" fill="#000" fill-opacity="0.05"/><g transform="translate(0,0)"><path d="M6.2 24.4H11.5V6.7H15.4V24.4H24" fill="none" stroke="#fff" stroke-width="2"/></g><rect x="-5" y="10" width="10" height="10" rx="3" class="port"/><rect x="25" y="10" width="10" height="10" rx="3" class="port"/><g transform="translate(3,33)"><rect x="3" y="-1" width="15" height="13" rx="1" fill="#fff" fill-opacity="0.85"/><rect x="6" y="1.5" width="9" height="9" rx="2" fill="#53a3f3" stroke="#53a3f3" stroke-width="3"/></g></g>
<g transform="translate(320,525)"><rect width="30" height="30" rx="5" fill="#41bdf5" stroke="#999"/><rect x="0.5" y="0.5" width="29" height="29" rx="4.5" fill="#000" fill-opacity="0.05"/><g transform="translate(0,0)"><path fill="#fff" fill-rule="evenodd" d="M12 8.3H18Q19.4 8.3 19.4 9.7V20.8Q19.4 22.2 18 22.2H12Q10.6 22.2 10.6 20.8V9.7Q10.6 8.3 12 8.3ZM12.3 12.1V18.9H17.5V12.1Z"/></g><rect x="-5" y="10" width="10" height="10" rx="3" class="port"/><rect x="25" y="10" width="10" height="10" rx="3" class="port"/><g transform="translate(3,33)"><rect x="3" y="-1" width="294.531" height="13" rx="1" fill="#fff" fill-opacity="0.85"/><rect x="6" y="1.5" width="9" height="9" rx="2" fill="#5a8" stroke="#5a8" stroke-width="3"/><text class="st" x="20" y="10.5">notify.mobile_app_s25_ultra called : Jun 3, 7:15 PM</text></g></g>
<g transform="translate(280,-15)"><rect x="-25" y="2" width="32" height="26" rx="5" fill="#eee" stroke="#999"/><rect x="-20" y="6" width="16" height="18" rx="4" fill="#a6bbcf" stroke="#999"/><rect width="100" height="30" rx="5" fill="#a6bbcf" stroke="#999"/><path d="M30 0.5H5Q0.5 0.5 0.5 5V25 Q0.5 29.5 5 29.5H30Z" fill="#000" fill-opacity="0.05"/><path d="M30 0.5V29.5" stroke="#000" stroke-opacity="0.1"/><g transform="translate(0,0)"><rect x="7.5" y="7.8" width="8.5" height="4" fill="#fff"/><rect x="7.5" y="16.3" width="8.5" height="4" fill="#fff"/><path d="M13.3 3.2L20 14.2L13.3 25.4" fill="none" stroke="#fff" stroke-width="2.7"/></g><text class="lbl" x="38" y="19.9">Test</text><rect x="95" y="10" width="10" height="10" rx="3" class="port"/></g>
<g transform="translate(490,70)"><rect width="30" height="60" rx="5" fill="#e2d96e" stroke="#999"/><rect x="0.5" y="0.5" width="29" height="59" rx="4.5" fill="#000" fill-opacity="0.05"/><g transform="translate(0,15)"><g fill="none" stroke="#fff" stroke-width="2" stroke-linejoin="round"><path d="M7.7 15H12.5L15.6 7.8H19.5"/><path d="M12.5 15L15.6 22.2H19.5"/></g><path d="M19.1 3.4L22.5 7.8L19.1 12.2Z M19.1 17.8L22.5 22.2L19.1 26.6Z" fill="#fff"/></g><rect x="-5" y="25" width="10" height="10" rx="3" class="port"/><rect x="25" y="5.5" width="10" height="10" rx="3" class="port"/><rect x="25" y="18.5" width="10" height="10" rx="3" class="port"/><rect x="25" y="31.5" width="10" height="10" rx="3" class="port"/><rect x="25" y="44.5" width="10" height="10" rx="3" class="port"/></g>
<g transform="translate(590,45)"><rect width="100" height="30" rx="5" fill="#e2d96e" stroke="#999"/><path d="M30 0.5H5Q0.5 0.5 0.5 5V25 Q0.5 29.5 5 29.5H30Z" fill="#000" fill-opacity="0.05"/><path d="M30 0.5V29.5" stroke="#000" stroke-opacity="0.1"/><g transform="translate(0,0)"><g fill="none" stroke="#fff" stroke-width="2"><path d="M6.4 22.6H10.2L17.2 8.2H19.2"/><path d="M6.4 8.2H10.2L12.3 12.6"/><path d="M13.4 17.6L15.6 22.6H19.2"/></g><path d="M18.2 3.6L21.8 8.2L18.2 12.8Z M18.2 18L21.8 22.6L18.2 27.2Z" fill="#fff"/></g><text class="lbl" x="38" y="19.9">Salon</text><rect x="-5" y="10" width="10" height="10" rx="3" class="port"/><rect x="95" y="10" width="10" height="10" rx="3" class="port"/></g>
<g transform="translate(590,85)"><rect width="120" height="30" rx="5" fill="#e2d96e" stroke="#999"/><path d="M30 0.5H5Q0.5 0.5 0.5 5V25 Q0.5 29.5 5 29.5H30Z" fill="#000" fill-opacity="0.05"/><path d="M30 0.5V29.5" stroke="#000" stroke-opacity="0.1"/><g transform="translate(0,0)"><g fill="none" stroke="#fff" stroke-width="2"><path d="M6.4 22.6H10.2L17.2 8.2H19.2"/><path d="M6.4 8.2H10.2L12.3 12.6"/><path d="M13.4 17.6L15.6 22.6H19.2"/></g><path d="M18.2 3.6L21.8 8.2L18.2 12.8Z M18.2 18L21.8 22.6L18.2 27.2Z" fill="#fff"/></g><text class="lbl" x="38" y="19.9">Chambre</text><rect x="-5" y="10" width="10" height="10" rx="3" class="port"/><rect x="115" y="10" width="10" height="10" rx="3" class="port"/></g>
<g transform="translate(590,125)"><rect width="120" height="30" rx="5" fill="#e2d96e" stroke="#999"/><path d="M30 0.5H5Q0.5 0.5 0.5 5V25 Q0.5 29.5 5 29.5H30Z" fill="#000" fill-opacity="0.05"/><path d="M30 0.5V29.5" stroke="#000" stroke-opacity="0.1"/><g transform="translate(0,0)"><g fill="none" stroke="#fff" stroke-width="2"><path d="M6.4 22.6H10.2L17.2 8.2H19.2"/><path d="M6.4 8.2H10.2L12.3 12.6"/><path d="M13.4 17.6L15.6 22.6H19.2"/></g><path d="M18.2 3.6L21.8 8.2L18.2 12.8Z M18.2 18L21.8 22.6L18.2 27.2Z" fill="#fff"/></g><text class="lbl" x="38" y="19.9">Couloir</text><rect x="-5" y="10" width="10" height="10" rx="3" class="port"/><rect x="115" y="10" width="10" height="10" rx="3" class="port"/></g>
<g transform="translate(750,85)"><rect width="30" height="30" rx="5" fill="#e6e0f8" stroke="#999"/><rect x="0.5" y="0.5" width="29" height="29" rx="4.5" fill="#000" fill-opacity="0.05"/><g transform="translate(0,0)"><g fill="none" stroke="#fff" stroke-width="1.4" stroke-linecap="round"><path d="M16.6 8.2A7.8 7.8 0 1 1 7.6 13.4"/><path d="M10 10.2L15 15.8"/></g><circle cx="14.8" cy="8" r="1.3" fill="#fff"/></g><rect x="-5" y="10" width="10" height="10" rx="3" class="port"/><rect x="25" y="10" width="10" height="10" rx="3" class="port"/><g transform="translate(3,33)"><rect x="3" y="-1" width="26.6719" height="13" rx="1" fill="#fff" fill-opacity="0.85"/><rect x="6" y="1.5" width="9" height="9" rx="2" fill="#53a3f3" stroke="#53a3f3" stroke-width="3"/><text class="st" x="20" y="10.5">0</text></g></g>
<g transform="translate(810,85)"><rect width="30" height="30" rx="5" fill="#41bdf5" stroke="#999"/><rect x="0.5" y="0.5" width="29" height="29" rx="4.5" fill="#000" fill-opacity="0.05"/><g transform="translate(0,0)"><circle cx="15" cy="15.5" r="7" fill="none" stroke="#fff" stroke-width="2.3"/><path d="M15.6 11.8V16.4H12" fill="none" stroke="#def" stroke-width="1.4"/></g><rect x="-5" y="10" width="10" height="10" rx="3" class="port"/><rect x="25" y="3.5" width="10" height="10" rx="3" class="port"/><rect x="25" y="16.5" width="10" height="10" rx="3" class="port"/><g transform="translate(3,33)"><rect x="3" y="-1" width="142.688" height="13" rx="1" fill="#fff" fill-opacity="0.85"/><rect x="6" y="1.5" width="9" height="9" rx="2" fill="#5a8" stroke="#5a8" stroke-width="3"/><text class="st" x="20" y="10.5">idle : Jun 12, 12:44 PM</text></g></g>
<g transform="translate(770,165)"><rect width="100" height="30" rx="5" fill="#fdd0a2" stroke="#999"/><path d="M30 0.5H5Q0.5 0.5 0.5 5V25 Q0.5 29.5 5 29.5H30Z" fill="#000" fill-opacity="0.05"/><path d="M30 0.5V29.5" stroke="#000" stroke-opacity="0.1"/><g transform="translate(0,0)"><path d="M22.4 7.1C21.5 4.2 18.6 3.3 18 7.2L15.8 22.2C15.2 26.5 11.4 26.6 9.8 23.6" fill="none" stroke="#fff" stroke-width="1.9"/><path d="M10.6 15.4H21" stroke="#fff" stroke-width="1.4"/></g><text class="lbl" x="38" y="19.9">Offset</text><rect x="-5" y="10" width="10" height="10" rx="3" class="port"/><rect x="95" y="10" width="10" height="10" rx="3" class="port"/></g>
<g transform="translate(480,205)"><rect width="100" height="30" rx="5" fill="#41bdf5" stroke="#999"/><path d="M30 0.5H5Q0.5 0.5 0.5 5V25 Q0.5 29.5 5 29.5H30Z" fill="#000" fill-opacity="0.05"/><path d="M30 0.5V29.5" stroke="#000" stroke-opacity="0.1"/><g transform="translate(0,0)"><text x="15.2" y="22" text-anchor="middle" font-family="Liberation Sans" font-weight="bold" font-size="18" fill="#fff">?</text></g><text class="lbl" x="38" y="19.9">AC</text><rect x="-5" y="10" width="10" height="10" rx="3" class="port"/><rect x="95" y="3.5" width="10" height="10" rx="3" class="port"/><rect x="95" y="16.5" width="10" height="10" rx="3" class="port"/><g transform="translate(3,33)"><rect x="3" y="-1" width="144.672" height="13" rx="1" fill="#fff" fill-opacity="0.85"/><rect x="6" y="1.5" width="9" height="9" rx="2" fill="#5a8" stroke="#5a8" stroke-width="3"/><text class="st" x="20" y="10.5">true : Jun 12, 12:44 PM</text></g></g>
<g transform="translate(680,225)"><rect width="120" height="30" rx="5" fill="#41bdf5" stroke="#999"/><path d="M30 0.5H5Q0.5 0.5 0.5 5V25 Q0.5 29.5 5 29.5H30Z" fill="#000" fill-opacity="0.05"/><path d="M30 0.5V29.5" stroke="#000" stroke-opacity="0.1"/><g transform="translate(0,0)"><circle cx="14.7" cy="14.6" r="8.9" fill="none" stroke="#fff" stroke-width="1.5"/><circle cx="14.7" cy="10.3" r="1.1" fill="#fff"/><path d="M13.3 12.9H15.6V18.8H16.6V19.8H13.5V18.8H14V13.9H13.3Z" fill="#fff"/></g><text class="lbl" x="38" y="19.9">Etat clim</text><rect x="-5" y="10" width="10" height="10" rx="3" class="port"/><rect x="115" y="10" width="10" height="10" rx="3" class="port"/><g transform="translate(3,33)"><rect x="3" y="-1" width="140.672" height="13" rx="1" fill="#fff" fill-opacity="0.85"/><rect x="6" y="1.5" width="9" height="9" rx="2" fill="#5a8" stroke="#5a8" stroke-width="3"/><text class="st" x="20" y="10.5">dry : Jun 12, 12:44 PM</text></g></g>
<g transform="translate(450,325)"><rect width="30" height="30" rx="5" fill="#e2d96e" stroke="#999"/><rect x="0.5" y="0.5" width="29" height="29" rx="4.5" fill="#000" fill-opacity="0.05"/><g transform="translate(0,0)"><path d="M12 5.6L23.4 5.3L21.2 7.3H18.4V22.9L18.3 23.7L6.9 24.6L9.2 22.6H11.9Z M13.6 7.3V22.6H16.8V7.3Z" fill="#fff" fill-rule="evenodd"/></g><rect x="-5" y="10" width="10" height="10" rx="3" class="port"/><rect x="25" y="10" width="10" height="10" rx="3" class="port"/></g>
<g transform="translate(560,325)"><rect x="94" y="2" width="32" height="26" rx="5" fill="#eee" stroke="#999"/><rect x="105" y="6" width="16" height="18" rx="4" fill="#87a980" stroke="#999"/><rect width="100" height="30" rx="5" fill="#87a980" stroke="#999"/><path d="M70 0.5H95 Q99.5 0.5 99.5 5V25 Q99.5 29.5 95 29.5H70Z" fill="#000" fill-opacity="0.05"/><path d="M70 0.5V29.5" stroke="#000" stroke-opacity="0.1"/><g transform="translate(70,0)"><g fill="#fff"><rect x="10.3" y="7" width="10" height="1.8"/><rect x="10.3" y="11" width="10" height="1.8"/><rect x="10.3" y="15" width="10" height="1.8"/><rect x="10.3" y="19" width="10" height="1.8"/><rect x="10.3" y="23" width="10" height="1.8"/></g></g><text class="lbl" x="62" y="19.9" text-anchor="end">infos</text><rect x="-5" y="10" width="10" height="10" rx="3" class="port"/></g>
<g transform="translate(450,450)"><rect width="30" height="60" rx="5" fill="#e2d96e" stroke="#999"/><rect x="0.5" y="0.5" width="29" height="59" rx="4.5" fill="#000" fill-opacity="0.05"/><g transform="translate(0,15)"><g fill="none" stroke="#fff" stroke-width="2" stroke-linejoin="round"><path d="M7.7 15H12.5L15.6 7.8H19.5"/><path d="M12.5 15L15.6 22.2H19.5"/></g><path d="M19.1 3.4L22.5 7.8L19.1 12.2Z M19.1 17.8L22.5 22.2L19.1 26.6Z" fill="#fff"/></g><rect x="-5" y="25" width="10" height="10" rx="3" class="port"/><rect x="25" y="5.5" width="10" height="10" rx="3" class="port"/><rect x="25" y="18.5" width="10" height="10" rx="3" class="port"/><rect x="25" y="31.5" width="10" height="10" rx="3" class="port"/><rect x="25" y="44.5" width="10" height="10" rx="3" class="port"/></g>
<g transform="translate(560,365)"><rect width="120" height="30" rx="5" fill="#e2d96e" stroke="#999"/><path d="M30 0.5H5Q0.5 0.5 0.5 5V25 Q0.5 29.5 5 29.5H30Z" fill="#000" fill-opacity="0.05"/><path d="M30 0.5V29.5" stroke="#000" stroke-opacity="0.1"/><g transform="translate(0,0)"><g fill="none" stroke="#fff" stroke-width="2" stroke-linejoin="round"><path d="M7.7 15H12.5L15.6 7.8H19.5"/><path d="M12.5 15L15.6 22.2H19.5"/></g><path d="M19.1 3.4L22.5 7.8L19.1 12.2Z M19.1 17.8L22.5 22.2L19.1 26.6Z" fill="#fff"/></g><text class="lbl" x="38" y="19.9">Heat start</text><rect x="-5" y="10" width="10" height="10" rx="3" class="port"/><rect x="115" y="10" width="10" height="10" rx="3" class="port"/></g>
<g transform="translate(320,325)"><rect width="30" height="30" rx="5" fill="#41bdf5" stroke="#999"/><rect x="0.5" y="0.5" width="29" height="29" rx="4.5" fill="#000" fill-opacity="0.05"/><g transform="translate(0,0)"><path fill="#fff" fill-rule="evenodd" d="M12 8.3H18Q19.4 8.3 19.4 9.7V20.8Q19.4 22.2 18 22.2H12Q10.6 22.2 10.6 20.8V9.7Q10.6 8.3 12 8.3ZM12.3 12.1V18.9H17.5V12.1Z"/></g><rect x="-5" y="10" width="10" height="10" rx="3" class="port"/><rect x="25" y="10" width="10" height="10" rx="3" class="port"/><g transform="translate(3,33)"><rect x="3" y="-1" width="300.312" height="13" rx="1" fill="#fff" fill-opacity="0.85"/><rect x="6" y="1.5" width="9" height="9" rx="2" fill="#5a8" stroke="#5a8" stroke-width="3"/><text class="st" x="20" y="10.5">notify.mobile_app_s25_ultra called : Jun 11, 3:09 PM</text></g></g>
<g transform="translate(560,405)"><rect width="120" height="30" rx="5" fill="#e2d96e" stroke="#999"/><path d="M30 0.5H5Q0.5 0.5 0.5 5V25 Q0.5 29.5 5 29.5H30Z" fill="#000" fill-opacity="0.05"/><path d="M30 0.5V29.5" stroke="#000" stroke-opacity="0.1"/><g transform="translate(0,0)"><g fill="none" stroke="#fff" stroke-width="2" stroke-linejoin="round"><path d="M7.7 15H12.5L15.6 7.8H19.5"/><path d="M12.5 15L15.6 22.2H19.5"/></g><path d="M19.1 3.4L22.5 7.8L19.1 12.2Z M19.1 17.8L22.5 22.2L19.1 26.6Z" fill="#fff"/></g><text class="lbl" x="38" y="19.9">Fan start</text><rect x="-5" y="10" width="10" height="10" rx="3" class="port"/><rect x="115" y="3.5" width="10" height="10" rx="3" class="port"/><rect x="115" y="16.5" width="10" height="10" rx="3" class="port"/></g>
<g transform="translate(560,445)"><rect width="120" height="30" rx="5" fill="#e2d96e" stroke="#999"/><path d="M30 0.5H5Q0.5 0.5 0.5 5V25 Q0.5 29.5 5 29.5H30Z" fill="#000" fill-opacity="0.05"/><path d="M30 0.5V29.5" stroke="#000" stroke-opacity="0.1"/><g transform="translate(0,0)"><g fill="none" stroke="#fff" stroke-width="2" stroke-linejoin="round"><path d="M7.7 15H12.5L15.6 7.8H19.5"/><path d="M12.5 15L15.6 22.2H19.5"/></g><path d="M19.1 3.4L22.5 7.8L19.1 12.2Z M19.1 17.8L22.5 22.2L19.1 26.6Z" fill="#fff"/></g><text class="lbl" x="38" y="19.9">Cool start</text><rect x="-5" y="10" width="10" height="10" rx="3" class="port"/><rect x="115" y="10" width="10" height="10" rx="3" class="port"/></g>
<g transform="translate(560,477.5)"><rect width="120" height="45" rx="5" fill="#e2d96e" stroke="#999"/><path d="M30 0.5H5Q0.5 0.5 0.5 5V40 Q0.5 44.5 5 44.5H30Z" fill="#000" fill-opacity="0.05"/><path d="M30 0.5V44.5" stroke="#000" stroke-opacity="0.1"/><g transform="translate(0,7.5)"><g fill="none" stroke="#fff" stroke-width="2" stroke-linejoin="round"><path d="M7.7 15H12.5L15.6 7.8H19.5"/><path d="M12.5 15L15.6 22.2H19.5"/></g><path d="M19.1 3.4L22.5 7.8L19.1 12.2Z M19.1 17.8L22.5 22.2L19.1 26.6Z" fill="#fff"/></g><text class="lbl" x="38" y="27.4">Cool stop</text><rect x="-5" y="17.5" width="10" height="10" rx="3" class="port"/><rect x="115" y="4.5" width="10" height="10" rx="3" class="port"/><rect x="115" y="17.5" width="10" height="10" rx="3" class="port"/><rect x="115" y="30.5" width="10" height="10" rx="3" class="port"/></g>
<g transform="translate(560,525)"><rect width="120" height="30" rx="5" fill="#e2d96e" stroke="#999"/><path d="M30 0.5H5Q0.5 0.5 0.5 5V25 Q0.5 29.5 5 29.5H30Z" fill="#000" fill-opacity="0.05"/><path d="M30 0.5V29.5" stroke="#000" stroke-opacity="0.1"/><g transform="translate(0,0)"><g fill="none" stroke="#fff" stroke-width="2" stroke-linejoin="round"><path d="M7.7 15H12.5L15.6 7.8H19.5"/><path d="M12.5 15L15.6 22.2H19.5"/></g><path d="M19.1 3.4L22.5 7.8L19.1 12.2Z M19.1 17.8L22.5 22.2L19.1 26.6Z" fill="#fff"/></g><text class="lbl" x="38" y="19.9">Fan stop</text><rect x="-5" y="10" width="10" height="10" rx="3" class="port"/><rect x="115" y="3.5" width="10" height="10" rx="3" class="port"/><rect x="115" y="16.5" width="10" height="10" rx="3" class="port"/></g>
<g transform="translate(740,325)"><rect width="30" height="30" rx="5" fill="#e2d96e" stroke="#999"/><rect x="0.5" y="0.5" width="29" height="29" rx="4.5" fill="#000" fill-opacity="0.05"/><g transform="translate(0,0)"><g fill="none" stroke="#fff" stroke-width="2"><path d="M6.4 22.6H10.2L17.2 8.2H19.2"/><path d="M6.4 8.2H10.2L12.3 12.6"/><path d="M13.4 17.6L15.6 22.6H19.2"/></g><path d="M18.2 3.6L21.8 8.2L18.2 12.8Z M18.2 18L21.8 22.6L18.2 27.2Z" fill="#fff"/></g><rect x="-5" y="10" width="10" height="10" rx="3" class="port"/><rect x="25" y="10" width="10" height="10" rx="3" class="port"/></g>
<g transform="translate(740,385)"><rect width="30" height="30" rx="5" fill="#e2d96e" stroke="#999"/><rect x="0.5" y="0.5" width="29" height="29" rx="4.5" fill="#000" fill-opacity="0.05"/><g transform="translate(0,0)"><g fill="none" stroke="#fff" stroke-width="2"><path d="M6.4 22.6H10.2L17.2 8.2H19.2"/><path d="M6.4 8.2H10.2L12.3 12.6"/><path d="M13.4 17.6L15.6 22.6H19.2"/></g><path d="M18.2 3.6L21.8 8.2L18.2 12.8Z M18.2 18L21.8 22.6L18.2 27.2Z" fill="#fff"/></g><rect x="-5" y="10" width="10" height="10" rx="3" class="port"/><rect x="25" y="10" width="10" height="10" rx="3" class="port"/></g>
<g transform="translate(740,445)"><rect width="30" height="30" rx="5" fill="#e2d96e" stroke="#999"/><rect x="0.5" y="0.5" width="29" height="29" rx="4.5" fill="#000" fill-opacity="0.05"/><g transform="translate(0,0)"><g fill="none" stroke="#fff" stroke-width="2"><path d="M6.4 22.6H10.2L17.2 8.2H19.2"/><path d="M6.4 8.2H10.2L12.3 12.6"/><path d="M13.4 17.6L15.6 22.6H19.2"/></g><path d="M18.2 3.6L21.8 8.2L18.2 12.8Z M18.2 18L21.8 22.6L18.2 27.2Z" fill="#fff"/></g><rect x="-5" y="10" width="10" height="10" rx="3" class="port"/><rect x="25" y="10" width="10" height="10" rx="3" class="port"/></g>
<g transform="translate(840,305)"><rect width="30" height="30" rx="5" fill="#e2d96e" stroke="#999"/><rect x="0.5" y="0.5" width="29" height="29" rx="4.5" fill="#000" fill-opacity="0.05"/><g transform="translate(0,0)"><circle cx="14.9" cy="14.8" r="7.2" fill="none" stroke="#fff" stroke-width="2.2"/><path d="M19.8 9.9L10 19.7" stroke="#fff" stroke-width="2.2"/></g><rect x="-5" y="10" width="10" height="10" rx="3" class="port"/><rect x="25" y="3.5" width="10" height="10" rx="3" class="port"/><rect x="25" y="16.5" width="10" height="10" rx="3" class="port"/></g>
<g transform="translate(910,305)"><rect width="30" height="30" rx="5" fill="#41bdf5" stroke="#999"/><rect x="0.5" y="0.5" width="29" height="29" rx="4.5" fill="#000" fill-opacity="0.05"/><g transform="translate(0,0)"><circle cx="14.8" cy="14.8" r="8.3" fill="#fff"/><path d="M12.4 11.3L19 15.1L12.4 19Z" fill="#41bdf5"/></g><rect x="-5" y="10" width="10" height="10" rx="3" class="port"/><rect x="25" y="10" width="10" height="10" rx="3" class="port"/><g transform="translate(3,33)"><rect x="3" y="-1" width="233.156" height="13" rx="1" fill="#fff" fill-opacity="0.85"/><rect x="6" y="1.5" width="9" height="9" rx="2" fill="#5a8" stroke="#5a8" stroke-width="3"/><text class="st" x="20" y="10.5">climate.turn_on called : Jun 11, 7:01 PM</text></g></g>
<g transform="translate(850,365)"><rect width="30" height="30" rx="5" fill="#e6e0f8" stroke="#999"/><rect x="0.5" y="0.5" width="29" height="29" rx="4.5" fill="#000" fill-opacity="0.05"/><g transform="translate(0,0)"><g fill="none" stroke="#fff" stroke-width="1.4" stroke-linecap="round"><path d="M16.6 8.2A7.8 7.8 0 1 1 7.6 13.4"/><path d="M10 10.2L15 15.8"/></g><circle cx="14.8" cy="8" r="1.3" fill="#fff"/></g><rect x="-5" y="10" width="10" height="10" rx="3" class="port"/><rect x="25" y="10" width="10" height="10" rx="3" class="port"/><g transform="translate(3,33)"><rect x="3" y="-1" width="26.6719" height="13" rx="1" fill="#fff" fill-opacity="0.85"/><rect x="6" y="1.5" width="9" height="9" rx="2" fill="#53a3f3" stroke="#53a3f3" stroke-width="3"/><text class="st" x="20" y="10.5">0</text></g></g>
<g transform="translate(940,365)"><rect width="30" height="30" rx="5" fill="#41bdf5" stroke="#999"/><rect x="0.5" y="0.5" width="29" height="29" rx="4.5" fill="#000" fill-opacity="0.05"/><g transform="translate(0,0)"><path fill="#fff" fill-rule="evenodd" d="M21.16 13.80 L23.24 14.07 L23.24 16.13 L21.16 16.40 L20.31 18.46 L21.58 20.13 L20.13 21.58 L18.46 20.31 L16.40 21.16 L16.13 23.24 L14.07 23.24 L13.80 21.16 L11.74 20.31 L10.07 21.58 L8.62 20.13 L9.89 18.46 L9.04 16.40 L6.96 16.13 L6.96 14.07 L9.04 13.80 L9.89 11.74 L8.62 10.07 L10.07 8.62 L11.74 9.89 L13.80 9.04 L14.07 6.96 L16.13 6.96 L16.40 9.04 L18.46 9.89 L20.13 8.62 L21.58 10.07 L20.31 11.74 Z M12.70 15.10 a2.40 2.40 0 1 0 4.80 0 a2.40 2.40 0 1 0 -4.80 0 Z"/></g><rect x="-5" y="10" width="10" height="10" rx="3" class="port"/><rect x="25" y="10" width="10" height="10" rx="3" class="port"/><g transform="translate(3,33)"><rect x="3" y="-1" width="277.172" height="13" rx="1" fill="#fff" fill-opacity="0.85"/><rect x="6" y="1.5" width="9" height="9" rx="2" fill="#5a8" stroke="#5a8" stroke-width="3"/><text class="st" x="20" y="10.5">climate.set_hvac_mode called : Jun 11, 7:01 PM</text></g></g>
<g transform="translate(850,425)"><rect width="30" height="30" rx="5" fill="#e6e0f8" stroke="#999"/><rect x="0.5" y="0.5" width="29" height="29" rx="4.5" fill="#000" fill-opacity="0.05"/><g transform="translate(0,0)"><g fill="none" stroke="#fff" stroke-width="1.4" stroke-linecap="round"><path d="M16.6 8.2A7.8 7.8 0 1 1 7.6 13.4"/><path d="M10 10.2L15 15.8"/></g><circle cx="14.8" cy="8" r="1.3" fill="#fff"/></g><rect x="-5" y="10" width="10" height="10" rx="3" class="port"/><rect x="25" y="10" width="10" height="10" rx="3" class="port"/><g transform="translate(3,33)"><rect x="3" y="-1" width="26.6719" height="13" rx="1" fill="#fff" fill-opacity="0.85"/><rect x="6" y="1.5" width="9" height="9" rx="2" fill="#53a3f3" stroke="#53a3f3" stroke-width="3"/><text class="st" x="20" y="10.5">0</text></g></g>
<g transform="translate(900,425)"><rect width="30" height="30" rx="5" fill="#e2d96e" stroke="#999"/><rect x="0.5" y="0.5" width="29" height="29" rx="4.5" fill="#000" fill-opacity="0.05"/><g transform="translate(0,0)"><g fill="none" stroke="#fff" stroke-width="2" stroke-linejoin="round"><path d="M7.7 15H12.5L15.6 7.8H19.5"/><path d="M12.5 15L15.6 22.2H19.5"/></g><path d="M19.1 3.4L22.5 7.8L19.1 12.2Z M19.1 17.8L22.5 22.2L19.1 26.6Z" fill="#fff"/></g><rect x="-5" y="10" width="10" height="10" rx="3" class="port"/><rect x="25" y="3.5" width="10" height="10" rx="3" class="port"/><rect x="25" y="16.5" width="10" height="10" rx="3" class="port"/></g>
<g transform="translate(970,425)"><rect width="30" height="30" rx="5" fill="#41bdf5" stroke="#999"/><rect x="0.5" y="0.5" width="29" height="29" rx="4.5" fill="#000" fill-opacity="0.05"/><g transform="translate(0,0)"><path d="M11.15 16.3V8.55A2.8 2.8 0 0 1 16.75 8.55V16.3A4.25 4.25 0 1 1 11.15 16.3Z" fill="none" stroke="#fff" stroke-width="1.5"/><rect x="13.3" y="11" width="1.3" height="8" fill="#fff"/><circle cx="13.95" cy="19.5" r="2.3" fill="#fff"/><path d="M18.4 8.9h1.8M18.4 11.4h1.8M18.4 13.9h1.8" stroke="#fff" stroke-width="1.1"/></g><rect x="-5" y="10" width="10" height="10" rx="3" class="port"/><rect x="25" y="10" width="10" height="10" rx="3" class="port"/><g transform="translate(3,33)"><rect x="3" y="-1" width="279.828" height="13" rx="1" fill="#fff" fill-opacity="0.85"/><rect x="6" y="1.5" width="9" height="9" rx="2" fill="#5a8" stroke="#5a8" stroke-width="3"/><text class="st" x="20" y="10.5">climate.set_temperature called : Jun 11, 5:12 PM</text></g></g>
<g transform="translate(990,505)"><rect width="30" height="30" rx="5" fill="#41bdf5" stroke="#999"/><rect x="0.5" y="0.5" width="29" height="29" rx="4.5" fill="#000" fill-opacity="0.05"/><g transform="translate(0,0)"><path d="M5.6 23.2V17.2A9.5 9.5 0 0 1 24.6 17.2V23.2Z" fill="#fff"/><g fill="#41bdf5"><circle cx="10.1" cy="13" r="1.1"/><circle cx="15" cy="10.6" r="1.1"/><circle cx="19.9" cy="12.9" r="1.1"/><circle cx="8.4" cy="17.6" r="1.1"/><circle cx="21.6" cy="17.6" r="1.1"/><circle cx="15.1" cy="19.6" r="1.8"/></g><path d="M15.1 19.6L16.8 13.2" stroke="#41bdf5" stroke-width="1.3"/></g><rect x="-5" y="10" width="10" height="10" rx="3" class="port"/><rect x="25" y="10" width="10" height="10" rx="3" class="port"/><g transform="translate(3,33)"><rect x="3" y="-1" width="268.5" height="13" rx="1" fill="#fff" fill-opacity="0.85"/><rect x="6" y="1.5" width="9" height="9" rx="2" fill="#5a8" stroke="#5a8" stroke-width="3"/><text class="st" x="20" y="10.5">climate.set_fan_mode called : Jun 11, 6:49 PM</text></g></g>
<g transform="translate(760,505)"><rect width="30" height="30" rx="5" fill="#41bdf5" stroke="#999"/><rect x="0.5" y="0.5" width="29" height="29" rx="4.5" fill="#000" fill-opacity="0.05"/><g transform="translate(0,0)"><circle cx="15" cy="15" r="8" fill="#fff"/><rect x="11.8" y="11.8" width="6.4" height="6.4" fill="#41bdf5"/></g><rect x="-5" y="10" width="10" height="10" rx="3" class="port"/><rect x="25" y="10" width="10" height="10" rx="3" class="port"/><g transform="translate(3,33)"><rect x="3" y="-1" width="232.922" height="13" rx="1" fill="#fff" fill-opacity="0.85"/><rect x="6" y="1.5" width="9" height="9" rx="2" fill="#5a8" stroke="#5a8" stroke-width="3"/><text class="st" x="20" y="10.5">climate.turn_off called : Jun 11, 7:01 PM</text></g></g>
<g transform="translate(740,565)"><rect width="30" height="30" rx="5" fill="#e2d96e" stroke="#999"/><rect x="0.5" y="0.5" width="29" height="29" rx="4.5" fill="#000" fill-opacity="0.05"/><g transform="translate(0,0)"><circle cx="14.9" cy="14.8" r="7.2" fill="none" stroke="#fff" stroke-width="2.2"/><path d="M19.8 9.9L10 19.7" stroke="#fff" stroke-width="2.2"/></g><rect x="-5" y="10" width="10" height="10" rx="3" class="port"/><rect x="25" y="3.5" width="10" height="10" rx="3" class="port"/><rect x="25" y="16.5" width="10" height="10" rx="3" class="port"/></g>
<g transform="translate(840,505)"><rect width="30" height="30" rx="5" fill="#fdd0a2" stroke="#999"/><rect x="0.5" y="0.5" width="29" height="29" rx="4.5" fill="#000" fill-opacity="0.05"/><g transform="translate(0,0)"><path d="M6 6.7L14.6 15L6 23.3Z M14.4 6.7L23 15L14.4 23.3Z" fill="#fff"/></g><rect x="-5" y="10" width="10" height="10" rx="3" class="port"/><rect x="25" y="10" width="10" height="10" rx="3" class="port"/></g>
<g transform="translate(890,505)"><rect width="30" height="30" rx="5" fill="#e2d96e" stroke="#999"/><rect x="0.5" y="0.5" width="29" height="29" rx="4.5" fill="#000" fill-opacity="0.05"/><g transform="translate(0,0)"><path d="M6 6.7L14.6 15L6 23.3Z M14.4 6.7L23 15L14.4 23.3Z" fill="#fff"/></g><rect x="-5" y="10" width="10" height="10" rx="3" class="port"/><rect x="25" y="10" width="10" height="10" rx="3" class="port"/></g>
<g transform="translate(940,505)"><rect width="30" height="30" rx="5" fill="#e6e0f8" stroke="#999"/><rect x="0.5" y="0.5" width="29" height="29" rx="4.5" fill="#000" fill-opacity="0.05"/><g transform="translate(0,0)"><g fill="none" stroke="#fff" stroke-width="1.4" stroke-linecap="round"><path d="M16.6 8.2A7.8 7.8 0 1 1 7.6 13.4"/><path d="M10 10.2L15 15.8"/></g><circle cx="14.8" cy="8" r="1.3" fill="#fff"/></g><rect x="-5" y="10" width="10" height="10" rx="3" class="port"/><rect x="25" y="10" width="10" height="10" rx="3" class="port"/><g transform="translate(3,33)"><rect x="3" y="-1" width="26.6719" height="13" rx="1" fill="#fff" fill-opacity="0.85"/><rect x="6" y="1.5" width="9" height="9" rx="2" fill="#53a3f3" stroke="#53a3f3" stroke-width="3"/><text class="st" x="20" y="10.5">0</text></g></g>
<g transform="translate(880,565)"><rect x="94" y="2" width="32" height="26" rx="5" fill="#eee" stroke="#999"/><rect x="105" y="6" width="16" height="18" rx="4" fill="#87a980" stroke="#999"/><rect width="100" height="30" rx="5" fill="#87a980" stroke="#999"/><path d="M70 0.5H95 Q99.5 0.5 99.5 5V25 Q99.5 29.5 95 29.5H70Z" fill="#000" fill-opacity="0.05"/><path d="M70 0.5V29.5" stroke="#000" stroke-opacity="0.1"/><g transform="translate(70,0)"><g fill="#fff"><rect x="10.3" y="7" width="10" height="1.8"/><rect x="10.3" y="11" width="10" height="1.8"/><rect x="10.3" y="15" width="10" height="1.8"/><rect x="10.3" y="19" width="10" height="1.8"/><rect x="10.3" y="23" width="10" height="1.8"/></g></g><text class="lbl" x="62" y="19.9" text-anchor="end">speed</text><rect x="-5" y="10" width="10" height="10" rx="3" class="port"/></g>
<g transform="translate(180,605)"><rect width="30" height="30" rx="5" fill="#e2d96e" stroke="#999"/><rect x="0.5" y="0.5" width="29" height="29" rx="4.5" fill="#000" fill-opacity="0.05"/><g transform="translate(0,0)"><g fill="none" stroke="#fff" stroke-width="2" stroke-linejoin="round"><path d="M7.7 15H12.5L15.6 7.8H19.5"/><path d="M12.5 15L15.6 22.2H19.5"/></g><path d="M19.1 3.4L22.5 7.8L19.1 12.2Z M19.1 17.8L22.5 22.2L19.1 26.6Z" fill="#fff"/></g><rect x="-5" y="10" width="10" height="10" rx="3" class="port"/><rect x="25" y="10" width="10" height="10" rx="3" class="port"/><circle cx="20.5" cy="-3.5" r="5" fill="#00bcff" stroke="#1ba1e2" stroke-width="1"/></g>
<g transform="translate(230,605)"><rect width="30" height="30" rx="5" fill="#e2d96e" stroke="#999"/><rect x="0.5" y="0.5" width="29" height="29" rx="4.5" fill="#000" fill-opacity="0.05"/><g transform="translate(0,0)"><g fill="none" stroke="#fff" stroke-width="2" stroke-linejoin="round"><path d="M7.7 15H12.5L15.6 7.8H19.5"/><path d="M12.5 15L15.6 22.2H19.5"/></g><path d="M19.1 3.4L22.5 7.8L19.1 12.2Z M19.1 17.8L22.5 22.2L19.1 26.6Z" fill="#fff"/></g><rect x="-5" y="10" width="10" height="10" rx="3" class="port"/><rect x="25" y="10" width="10" height="10" rx="3" class="port"/><circle cx="20.5" cy="-3.5" r="5" fill="#00bcff" stroke="#1ba1e2" stroke-width="1"/></g>
<g transform="translate(280,605)"><rect width="140" height="30" rx="5" fill="#41bdf5" stroke="#999"/><path d="M110 0.5H135 Q139.5 0.5 139.5 5V25 Q139.5 29.5 135 29.5H110Z" fill="#000" fill-opacity="0.05"/><path d="M110 0.5V29.5" stroke="#000" stroke-opacity="0.1"/><g transform="translate(110,0)"><g fill="none" stroke="#fff" stroke-width="1.4" stroke-linecap="round"><path d="M16.6 8.2A7.8 7.8 0 1 1 7.6 13.4"/><path d="M10 10.2L15 15.8"/></g><circle cx="14.8" cy="8" r="1.3" fill="#fff"/></g><text class="lbl" x="102" y="19.9" text-anchor="end">Timer Salon</text><rect x="-5" y="10" width="10" height="10" rx="3" class="port"/><rect x="135" y="10" width="10" height="10" rx="3" class="port"/><circle cx="130.5" cy="-3.5" r="5" fill="#00bcff" stroke="#1ba1e2" stroke-width="1"/><g transform="translate(3,33)"><rect x="3" y="-1" width="210.469" height="13" rx="1" fill="#fff" fill-opacity="0.85"/><rect x="6" y="1.5" width="9" height="9" rx="2" fill="#5a8" stroke="#5a8" stroke-width="3"/><text class="st" x="20" y="10.5">timer.start called : Jun 10, 11:49 PM</text></g></g>
<g transform="translate(180,665)"><rect width="30" height="30" rx="5" fill="#e2d96e" stroke="#999"/><rect x="0.5" y="0.5" width="29" height="29" rx="4.5" fill="#000" fill-opacity="0.05"/><g transform="translate(0,0)"><g fill="none" stroke="#fff" stroke-width="2" stroke-linejoin="round"><path d="M7.7 15H12.5L15.6 7.8H19.5"/><path d="M12.5 15L15.6 22.2H19.5"/></g><path d="M19.1 3.4L22.5 7.8L19.1 12.2Z M19.1 17.8L22.5 22.2L19.1 26.6Z" fill="#fff"/></g><rect x="-5" y="10" width="10" height="10" rx="3" class="port"/><rect x="25" y="10" width="10" height="10" rx="3" class="port"/><circle cx="20.5" cy="-3.5" r="5" fill="#00bcff" stroke="#1ba1e2" stroke-width="1"/></g>
<g transform="translate(230,665)"><rect width="30" height="30" rx="5" fill="#e2d96e" stroke="#999"/><rect x="0.5" y="0.5" width="29" height="29" rx="4.5" fill="#000" fill-opacity="0.05"/><g transform="translate(0,0)"><g fill="none" stroke="#fff" stroke-width="2" stroke-linejoin="round"><path d="M7.7 15H12.5L15.6 7.8H19.5"/><path d="M12.5 15L15.6 22.2H19.5"/></g><path d="M19.1 3.4L22.5 7.8L19.1 12.2Z M19.1 17.8L22.5 22.2L19.1 26.6Z" fill="#fff"/></g><rect x="-5" y="10" width="10" height="10" rx="3" class="port"/><rect x="25" y="10" width="10" height="10" rx="3" class="port"/><circle cx="20.5" cy="-3.5" r="5" fill="#00bcff" stroke="#1ba1e2" stroke-width="1"/></g>
<g transform="translate(280,665)"><rect width="160" height="30" rx="5" fill="#41bdf5" stroke="#999"/><path d="M130 0.5H155 Q159.5 0.5 159.5 5V25 Q159.5 29.5 155 29.5H130Z" fill="#000" fill-opacity="0.05"/><path d="M130 0.5V29.5" stroke="#000" stroke-opacity="0.1"/><g transform="translate(130,0)"><g fill="none" stroke="#fff" stroke-width="1.4" stroke-linecap="round"><path d="M16.6 8.2A7.8 7.8 0 1 1 7.6 13.4"/><path d="M10 10.2L15 15.8"/></g><circle cx="14.8" cy="8" r="1.3" fill="#fff"/></g><text class="lbl" x="122" y="19.9" text-anchor="end">Timer Chambre</text><rect x="-5" y="10" width="10" height="10" rx="3" class="port"/><rect x="155" y="10" width="10" height="10" rx="3" class="port"/><circle cx="150.5" cy="-3.5" r="5" fill="#00bcff" stroke="#1ba1e2" stroke-width="1"/><g transform="translate(3,33)"><rect x="3" y="-1" width="203.797" height="13" rx="1" fill="#fff" fill-opacity="0.85"/><rect x="6" y="1.5" width="9" height="9" rx="2" fill="#5a8" stroke="#5a8" stroke-width="3"/><text class="st" x="20" y="10.5">timer.start called : Jun 11, 8:42 PM</text></g></g>
<g transform="translate(180,725)"><rect width="30" height="30" rx="5" fill="#e2d96e" stroke="#999"/><rect x="0.5" y="0.5" width="29" height="29" rx="4.5" fill="#000" fill-opacity="0.05"/><g transform="translate(0,0)"><g fill="none" stroke="#fff" stroke-width="2" stroke-linejoin="round"><path d="M7.7 15H12.5L15.6 7.8H19.5"/><path d="M12.5 15L15.6 22.2H19.5"/></g><path d="M19.1 3.4L22.5 7.8L19.1 12.2Z M19.1 17.8L22.5 22.2L19.1 26.6Z" fill="#fff"/></g><rect x="-5" y="10" width="10" height="10" rx="3" class="port"/><rect x="25" y="10" width="10" height="10" rx="3" class="port"/><circle cx="20.5" cy="-3.5" r="5" fill="#00bcff" stroke="#1ba1e2" stroke-width="1"/></g>
<g transform="translate(230,725)"><rect width="30" height="30" rx="5" fill="#e2d96e" stroke="#999"/><rect x="0.5" y="0.5" width="29" height="29" rx="4.5" fill="#000" fill-opacity="0.05"/><g transform="translate(0,0)"><g fill="none" stroke="#fff" stroke-width="2" stroke-linejoin="round"><path d="M7.7 15H12.5L15.6 7.8H19.5"/><path d="M12.5 15L15.6 22.2H19.5"/></g><path d="M19.1 3.4L22.5 7.8L19.1 12.2Z M19.1 17.8L22.5 22.2L19.1 26.6Z" fill="#fff"/></g><rect x="-5" y="10" width="10" height="10" rx="3" class="port"/><rect x="25" y="10" width="10" height="10" rx="3" class="port"/><circle cx="20.5" cy="-3.5" r="5" fill="#00bcff" stroke="#1ba1e2" stroke-width="1"/></g>
<g transform="translate(280,725)"><rect width="160" height="30" rx="5" fill="#41bdf5" stroke="#999"/><path d="M130 0.5H155 Q159.5 0.5 159.5 5V25 Q159.5 29.5 155 29.5H130Z" fill="#000" fill-opacity="0.05"/><path d="M130 0.5V29.5" stroke="#000" stroke-opacity="0.1"/><g transform="translate(130,0)"><g fill="none" stroke="#fff" stroke-width="1.4" stroke-linecap="round"><path d="M16.6 8.2A7.8 7.8 0 1 1 7.6 13.4"/><path d="M10 10.2L15 15.8"/></g><circle cx="14.8" cy="8" r="1.3" fill="#fff"/></g><text class="lbl" x="122" y="19.9" text-anchor="end">Timer Couloir</text><rect x="-5" y="10" width="10" height="10" rx="3" class="port"/><rect x="155" y="10" width="10" height="10" rx="3" class="port"/><circle cx="150.5" cy="-3.5" r="5" fill="#00bcff" stroke="#1ba1e2" stroke-width="1"/><g transform="translate(3,33)"><rect x="3" y="-1" width="204.031" height="13" rx="1" fill="#fff" fill-opacity="0.85"/><rect x="6" y="1.5" width="9" height="9" rx="2" fill="#5a8" stroke="#5a8" stroke-width="3"/><text class="st" x="20" y="10.5">timer.start called : Jun 12, 7:03 AM</text></g></g>
<g transform="translate(560,565)"><rect width="120" height="30" rx="5" fill="#e2d96e" stroke="#999"/><path d="M30 0.5H5Q0.5 0.5 0.5 5V25 Q0.5 29.5 5 29.5H30Z" fill="#000" fill-opacity="0.05"/><path d="M30 0.5V29.5" stroke="#000" stroke-opacity="0.1"/><g transform="translate(0,0)"><g fill="none" stroke="#fff" stroke-width="2" stroke-linejoin="round"><path d="M7.7 15H12.5L15.6 7.8H19.5"/><path d="M12.5 15L15.6 22.2H19.5"/></g><path d="M19.1 3.4L22.5 7.8L19.1 12.2Z M19.1 17.8L22.5 22.2L19.1 26.6Z" fill="#fff"/></g><text class="lbl" x="38" y="19.9">Heat stop</text><rect x="-5" y="10" width="10" height="10" rx="3" class="port"/><rect x="115" y="3.5" width="10" height="10" rx="3" class="port"/><rect x="115" y="16.5" width="10" height="10" rx="3" class="port"/></g>
</g></svg></body></html>
